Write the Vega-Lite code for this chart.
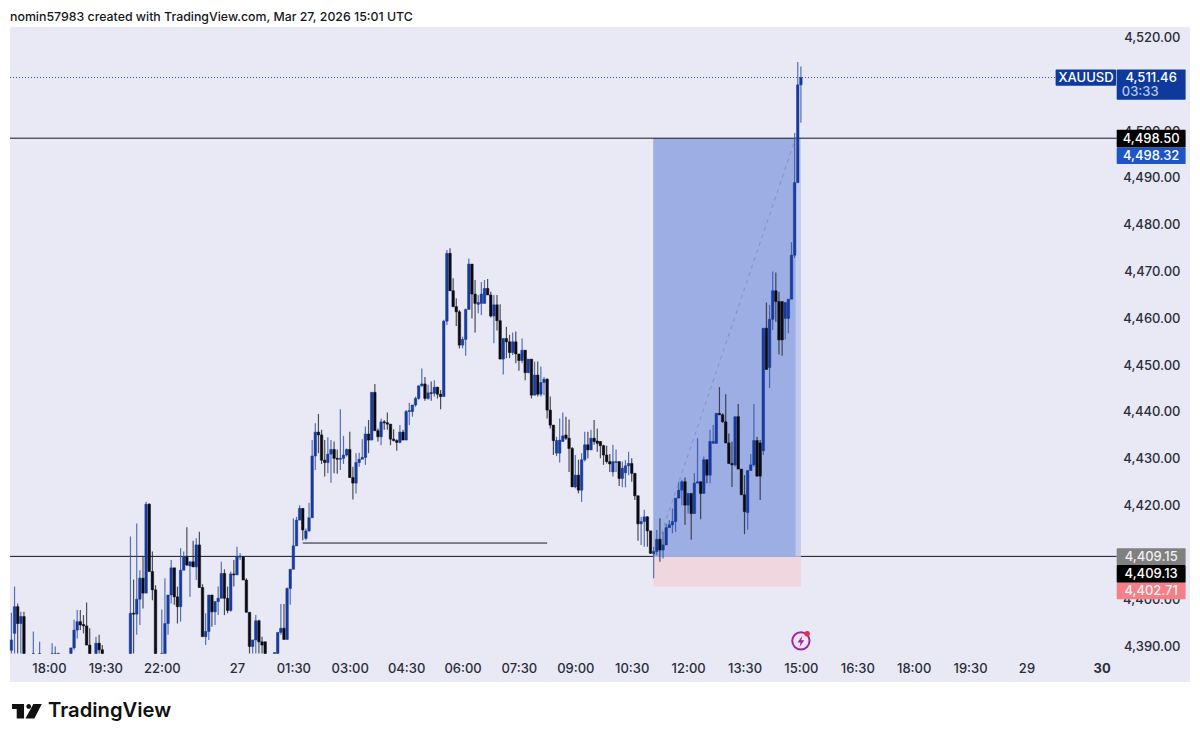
{"$schema":"https://vega.github.io/schema/vega-lite/v6.json","width":1180,"height":655,"autosize":"none","padding":{"left":10,"top":27,"right":10,"bottom":60},"background":"#ffffff","view":{"fill":"#e9e9f5","stroke":null},
"title":{"text":"nomin57983 created with TradingView.com, Mar 27, 2026 15:01 UTC","anchor":"start","frame":"group","orient":"top","offset":4,"font":"Inter","fontSize":12.35,"fontWeight":500,"color":"#131722"},
"config":{"axis":{"grid":false,"domain":false,"ticks":false,"tickSize":0,"title":null}},
"resolve":{"scale":{"color":"independent"}},
"datasets":{"candles":[
{"i":-12,"o":4389.1,"h":4397.1,"l":4388.4,"c":4391.3},{"i":-11,"o":4392.7,"h":4402.7,"l":4388.4,"c":4398.4},{"i":-10,"o":4398.4,"h":4399.1,"l":4388.4,"c":4394.8},{"i":-9,"o":4394.8,"h":4397.3,"l":4388.4,"c":4396.3},{"i":-8,"o":4396.3,"h":4397.3,"l":4388.4,"c":4388.4},{"i":-5,"o":4388.4,"h":4393.1,"l":4388.4,"c":4388.4},{"i":-3,"o":4388.4,"h":4390.9,"l":4388.4,"c":4388.4},{"i":1,"o":4388.4,"h":4390.6,"l":4388.4,"c":4388.4},{"i":2,"o":4388.4,"h":4389.9,"l":4388.4,"c":4388.4},{"i":3,"o":4388.4,"h":4388.6,"l":4388.4,"c":4388.4},
{"i":7,"o":4388.4,"h":4389.6,"l":4388.4,"c":4389.6},{"i":8,"o":4389.6,"h":4395.6,"l":4389.2,"c":4393.4},{"i":9,"o":4393.4,"h":4397.7,"l":4391.6,"c":4395.2},{"i":10,"o":4395.2,"h":4397.7,"l":4393.4,"c":4394.5},{"i":11,"o":4394.6,"h":4396.6,"l":4392.7,"c":4394.3},{"i":12,"o":4394.3,"h":4399.3,"l":4390.2,"c":4390.2},{"i":13,"o":4390.2,"h":4393.8,"l":4388.4,"c":4388.4},{"i":15,"o":4388.4,"h":4392,"l":4388.4,"c":4390.6},{"i":16,"o":4390.6,"h":4392.4,"l":4388.4,"c":4389.2},{"i":17,"o":4389.2,"h":4390.2,"l":4388.4,"c":4388.4},
{"i":26,"o":4388.4,"h":4413.4,"l":4388.4,"c":4397},{"i":27,"o":4397,"h":4404.2,"l":4388.4,"c":4396.8},{"i":28,"o":4396.8,"h":4416.2,"l":4392.4,"c":4400},{"i":29,"o":4400,"h":4406.2,"l":4394.5,"c":4404.5},{"i":30,"o":4404.5,"h":4409.1,"l":4398,"c":4401.3},{"i":31,"o":4401.3,"h":4420.8,"l":4401.3,"c":4420.3},{"i":32,"o":4420.3,"h":4420.5,"l":4405.9,"c":4405.9},{"i":33,"o":4405.9,"h":4410.2,"l":4399.8,"c":4402},{"i":34,"o":4402,"h":4403,"l":4388.4,"c":4388.4},
{"i":36,"o":4388.4,"h":4397.8,"l":4388.4,"c":4388.4},{"i":37,"o":4388.4,"h":4404.5,"l":4388.4,"c":4394.8},{"i":38,"o":4394.8,"h":4400.9,"l":4392.4,"c":4400.9},{"i":39,"o":4400.9,"h":4408.4,"l":4399.1,"c":4406.7},{"i":40,"o":4406.7,"h":4406.7,"l":4398.8,"c":4400.5},{"i":41,"o":4400.5,"h":4402.7,"l":4394.8,"c":4398.4},{"i":42,"o":4398.4,"h":4410.9,"l":4395.2,"c":4406.2},{"i":43,"o":4406.2,"h":4410.2,"l":4406.2,"c":4409},{"i":44,"o":4409,"h":4415.4,"l":4407.1,"c":4407.3},{"i":45,"o":4407.1,"h":4408,"l":4400.5,"c":4408},{"i":46,"o":4408,"h":4412.5,"l":4406.9,"c":4406.9},{"i":47,"o":4406.9,"h":4413,"l":4404.1,"c":4411.6},{"i":48,"o":4411.6,"h":4414.4,"l":4402.5,"c":4402.5},{"i":49,"o":4402.5,"h":4403.2,"l":4392,"c":4392},
{"i":50,"o":4392,"h":4397,"l":4390.2,"c":4393.1},{"i":51,"o":4393.1,"h":4400.9,"l":4391.3,"c":4400.9},{"i":52,"o":4400.9,"h":4400.9,"l":4394.1,"c":4397.3},{"i":53,"o":4397.3,"h":4399.5,"l":4394.5,"c":4399.5},{"i":54,"o":4399.5,"h":4402.7,"l":4396.6,"c":4400.2},{"i":55,"o":4400.2,"h":4408,"l":4400.2,"c":4405.5},{"i":56,"o":4405.5,"h":4406.4,"l":4396.6,"c":4400.2},{"i":57,"o":4400.2,"h":4402.7,"l":4397,"c":4397.6},{"i":58,"o":4397.6,"h":4405.9,"l":4397.3,"c":4405.4},{"i":59,"o":4405.4,"h":4408.4,"l":4402.7,"c":4405.2},{"i":60,"o":4405.2,"h":4411.2,"l":4405.2,"c":4409},{"i":61,"o":4409,"h":4409.8,"l":4408.4,"c":4409.2},{"i":62,"o":4409,"h":4409.2,"l":4404.1,"c":4404.1},{"i":63,"o":4404.1,"h":4404.5,"l":4397.2,"c":4397.2},{"i":64,"o":4397.2,"h":4397.2,"l":4388.4,"c":4389.9},{"i":65,"o":4389.9,"h":4391.3,"l":4388.4,"c":4391.3},{"i":66,"o":4391.3,"h":4396.6,"l":4388.4,"c":4395.4},{"i":67,"o":4395.4,"h":4395.6,"l":4388.4,"c":4390.9},{"i":68,"o":4390.9,"h":4392,"l":4388.4,"c":4390.2},{"i":69,"o":4390.9,"h":4390.9,"l":4388.4,"c":4388.4},
{"i":72,"o":4388.4,"h":4388.6,"l":4388.4,"c":4388.6},{"i":73,"o":4388.4,"h":4392.9,"l":4388.4,"c":4392.9},{"i":74,"o":4392.9,"h":4399,"l":4392.4,"c":4393.8},{"i":75,"o":4393.8,"h":4399,"l":4391.4,"c":4391.4},{"i":76,"o":4391.4,"h":4402.5,"l":4391.4,"c":4402.3},{"i":77,"o":4402.3,"h":4406.4,"l":4398.8,"c":4406.4},{"i":78,"o":4406.4,"h":4417.3,"l":4406.4,"c":4411.4},{"i":79,"o":4411.4,"h":4417.6,"l":4411.4,"c":4416.9},
{"i":80,"o":4416.9,"h":4420.1,"l":4416.9,"c":4419.4},{"i":81,"o":4419.4,"h":4419.4,"l":4412.6,"c":4414.8},{"i":82,"o":4413,"h":4415.1,"l":4412.6,"c":4414.6},{"i":83,"o":4414.6,"h":4420.6,"l":4414.4,"c":4417.4},{"i":84,"o":4417.4,"h":4434,"l":4417.4,"c":4430.6},{"i":85,"o":4430.6,"h":4437.6,"l":4427.6,"c":4435.7},{"i":86,"o":4435.7,"h":4439.6,"l":4431.2,"c":4435.1},{"i":87,"o":4435.1,"h":4436.2,"l":4428.9,"c":4429.7},{"i":88,"o":4429.7,"h":4434,"l":4426.2,"c":4429.2},{"i":89,"o":4429.2,"h":4434.6,"l":4426.9,"c":4431},{"i":90,"o":4431,"h":4434,"l":4424.9,"c":4432},{"i":91,"o":4432,"h":4433.7,"l":4426.9,"c":4430.1},{"i":92,"o":4430.1,"h":4432,"l":4426.8,"c":4429.9},{"i":93,"o":4429.9,"h":4440.6,"l":4427.6,"c":4430.1},{"i":94,"o":4430.1,"h":4434.9,"l":4428.9,"c":4430.8},{"i":95,"o":4430.8,"h":4432.2,"l":4430.5,"c":4432},{"i":96,"o":4432,"h":4435.8,"l":4426,"c":4426},{"i":97,"o":4426,"h":4428.3,"l":4421.3,"c":4424.8},{"i":98,"o":4424.8,"h":4431.2,"l":4422.6,"c":4429.2},{"i":99,"o":4429.2,"h":4431.3,"l":4428.3,"c":4429.9},
{"i":100,"o":4429.9,"h":4434.2,"l":4430.1,"c":4430.3},{"i":101,"o":4430.3,"h":4436.9,"l":4428.7,"c":4435.3},{"i":102,"o":4435.3,"h":4438.3,"l":4431.2,"c":4434},{"i":103,"o":4434,"h":4444.2,"l":4434,"c":4444.2},{"i":104,"o":4444.2,"h":4446,"l":4436,"c":4436},{"i":105,"o":4436,"h":4436.5,"l":4433.7,"c":4434.7},{"i":106,"o":4434.7,"h":4438.6,"l":4432.9,"c":4437.9},{"i":107,"o":4437.9,"h":4438.3,"l":4436.2,"c":4437.7},{"i":108,"o":4437.7,"h":4439.9,"l":4436.2,"c":4437.4},{"i":109,"o":4437.4,"h":4437.4,"l":4432.9,"c":4434.2},{"i":110,"o":4434.2,"h":4436.3,"l":4433.7,"c":4433.9},{"i":111,"o":4433.9,"h":4434.2,"l":4431.7,"c":4433.5},{"i":112,"o":4433.5,"h":4437.2,"l":4433.3,"c":4435.7},{"i":113,"o":4435.7,"h":4436.2,"l":4434,"c":4434},{"i":114,"o":4434,"h":4440.4,"l":4434,"c":4440.1},{"i":115,"o":4440.1,"h":4442,"l":4437.2,"c":4440.3},{"i":116,"o":4440.1,"h":4441.5,"l":4439,"c":4441.5},{"i":117,"o":4441.5,"h":4443.3,"l":4441.1,"c":4442.9},{"i":118,"o":4442.9,"h":4445.6,"l":4442.6,"c":4445.6},{"i":119,"o":4445.6,"h":4449.3,"l":4445.4,"c":4446},
{"i":120,"o":4446,"h":4447.5,"l":4442.4,"c":4442.9},{"i":121,"o":4442.9,"h":4445.8,"l":4442.6,"c":4444.1},{"i":122,"o":4444.1,"h":4446.5,"l":4442.4,"c":4444},{"i":123,"o":4444,"h":4446.8,"l":4443.3,"c":4445.3},{"i":124,"o":4445.3,"h":4445.4,"l":4442.9,"c":4443.8},{"i":125,"o":4443.8,"h":4444.7,"l":4440.6,"c":4443.3},{"i":126,"o":4443.3,"h":4459.7,"l":4443.3,"c":4459.4},{"i":127,"o":4459.4,"h":4474.6,"l":4458.6,"c":4473.9},{"i":128,"o":4473.9,"h":4475,"l":4465.9,"c":4465.9},{"i":129,"o":4465.9,"h":4468.6,"l":4462.5,"c":4462.5},{"i":130,"o":4462.5,"h":4464.3,"l":4458.4,"c":4461.4},{"i":131,"o":4461.4,"h":4461.8,"l":4453.6,"c":4454.3},{"i":132,"o":4454.3,"h":4456.1,"l":4453.6,"c":4455.5},{"i":133,"o":4455.5,"h":4462.1,"l":4452,"c":4461.9},{"i":134,"o":4461.9,"h":4472.8,"l":4461.9,"c":4471.6},{"i":135,"o":4471.6,"h":4471.6,"l":4460,"c":4465.2},{"i":136,"o":4465.2,"h":4468.2,"l":4457,"c":4463.2},{"i":137,"o":4463,"h":4465,"l":4461.1,"c":4463.4},{"i":138,"o":4463.2,"h":4467.8,"l":4460.7,"c":4465.2},{"i":139,"o":4463.2,"h":4468.2,"l":4463.2,"c":4466.4},
{"i":140,"o":4466.4,"h":4468.4,"l":4465,"c":4465},{"i":141,"o":4465,"h":4465.7,"l":4460.2,"c":4460.5},{"i":142,"o":4460.5,"h":4465,"l":4454.7,"c":4462.9},{"i":143,"o":4462.9,"h":4465,"l":4457.4,"c":4459.5},{"i":144,"o":4459.5,"h":4463,"l":4451.3,"c":4451.3},{"i":145,"o":4451.3,"h":4455.7,"l":4448,"c":4455.7},{"i":146,"o":4455.7,"h":4458.2,"l":4451.5,"c":4455},{"i":147,"o":4455,"h":4456.5,"l":4451.5,"c":4452.7},{"i":148,"o":4452.7,"h":4457,"l":4452.2,"c":4455},{"i":149,"o":4455,"h":4457.2,"l":4450.4,"c":4452.4},{"i":150,"o":4452.4,"h":4452.4,"l":4448.8,"c":4451},{"i":151,"o":4451,"h":4455.7,"l":4450.4,"c":4453.2},{"i":152,"o":4453.2,"h":4453.2,"l":4446.8,"c":4448.4},{"i":153,"o":4448.4,"h":4451.3,"l":4448.3,"c":4451.3},{"i":154,"o":4451.3,"h":4451.3,"l":4442.9,"c":4443.6},{"i":155,"o":4443.6,"h":4450.8,"l":4443.6,"c":4447.9},{"i":156,"o":4447.9,"h":4450.8,"l":4443.3,"c":4443.8},{"i":157,"o":4443.8,"h":4449.7,"l":4443.3,"c":4446.3},{"i":158,"o":4446.3,"h":4447.5,"l":4443.6,"c":4447},{"i":159,"o":4447,"h":4447.2,"l":4438.6,"c":4440.4},
{"i":160,"o":4440.4,"h":4443.3,"l":4436.5,"c":4437.2},{"i":161,"o":4437.2,"h":4437.2,"l":4430.8,"c":4433.9},{"i":162,"o":4431.2,"h":4434.7,"l":4430.6,"c":4433.9},{"i":163,"o":4431.2,"h":4438.6,"l":4429.2,"c":4434},{"i":164,"o":4433.7,"h":4439.9,"l":4433.7,"c":4434.9},{"i":165,"o":4435.1,"h":4439,"l":4434,"c":4434.4},{"i":166,"o":4434.4,"h":4438.4,"l":4427.2,"c":4432.2},{"i":167,"o":4432.2,"h":4432.5,"l":4424,"c":4424},{"i":168,"o":4424,"h":4430.8,"l":4423.7,"c":4426.5},{"i":169,"o":4426.5,"h":4429.8,"l":4422.6,"c":4423.3},{"i":170,"o":4423.3,"h":4431.2,"l":4420.8,"c":4429.8},{"i":171,"o":4429.8,"h":4435.8,"l":4429.4,"c":4433},{"i":172,"o":4433,"h":4435.8,"l":4430.1,"c":4431.9},{"i":173,"o":4431.9,"h":4436.2,"l":4431.9,"c":4434.4},{"i":174,"o":4434.4,"h":4438.3,"l":4433,"c":4433.7},{"i":175,"o":4433.8,"h":4436.5,"l":4431.5,"c":4433.3},{"i":176,"o":4433.7,"h":4433.7,"l":4430.1,"c":4432.8},{"i":177,"o":4432.8,"h":4433,"l":4428.7,"c":4430.8},{"i":178,"o":4430.8,"h":4432.8,"l":4429,"c":4429.4},{"i":179,"o":4429.4,"h":4431,"l":4427.2,"c":4428.9},
{"i":180,"o":4427.2,"h":4433,"l":4426.2,"c":4429.4},{"i":181,"o":4429.2,"h":4432,"l":4427.2,"c":4429.4},{"i":182,"o":4429.4,"h":4429.4,"l":4424.2,"c":4425.8},{"i":183,"o":4425.8,"h":4429.4,"l":4423.9,"c":4428},{"i":184,"o":4427,"h":4429.7,"l":4423.9,"c":4428.5},{"i":185,"o":4428.5,"h":4431.5,"l":4426.5,"c":4429},{"i":186,"o":4429,"h":4430.1,"l":4425.1,"c":4426.9},{"i":187,"o":4426.9,"h":4426.9,"l":4421.2,"c":4422.1},{"i":188,"o":4422.1,"h":4422.1,"l":4412.5,"c":4416.1},{"i":189,"o":4416.1,"h":4417.6,"l":4411.6,"c":4416.6},{"i":190,"o":4416.6,"h":4419.1,"l":4411.2,"c":4417.6},{"i":191,"o":4417.6,"h":4417.8,"l":4411.2,"c":4414.6},{"i":192,"o":4414.6,"h":4414.6,"l":4409.7,"c":4409.8},{"i":193,"o":4409.7,"h":4411.2,"l":4404.5,"c":4410.2},{"i":194,"o":4410.2,"h":4414.8,"l":4409.4,"c":4412.8},{"i":195,"o":4412.8,"h":4417.3,"l":4408,"c":4410.5},{"i":196,"o":4410.5,"h":4414.4,"l":4408.7,"c":4411.6},{"i":197,"o":4411.6,"h":4416.2,"l":4411.6,"c":4415.3},{"i":198,"o":4415.3,"h":4416.9,"l":4415.3,"c":4415.9},{"i":199,"o":4415.9,"h":4419.4,"l":4414.1,"c":4416.6},
{"i":200,"o":4416.6,"h":4421.6,"l":4414.4,"c":4421.6},{"i":201,"o":4421.6,"h":4425.1,"l":4421.6,"c":4423.3},{"i":202,"o":4423.3,"h":4425.5,"l":4420.1,"c":4425.1},{"i":203,"o":4425.1,"h":4426,"l":4415.9,"c":4420.1},{"i":204,"o":4420.1,"h":4422.6,"l":4418.3,"c":4422.6},{"i":205,"o":4422.6,"h":4422.6,"l":4412.7,"c":4418.3},{"i":206,"o":4418.3,"h":4426.9,"l":4418.3,"c":4424.8},{"i":207,"o":4424.8,"h":4434.4,"l":4424.8,"c":4425.1},{"i":208,"o":4425.1,"h":4425.1,"l":4417.1,"c":4422.6},{"i":209,"o":4422.6,"h":4430.5,"l":4422.6,"c":4429.8},{"i":210,"o":4429.8,"h":4429.8,"l":4424.8,"c":4426.5},{"i":211,"o":4426.5,"h":4436.2,"l":4424.8,"c":4433.7},{"i":212,"o":4433.3,"h":4437.2,"l":4433.3,"c":4433.7},{"i":213,"o":4433.3,"h":4439.7,"l":4433.3,"c":4439.7},{"i":214,"o":4439.7,"h":4445.3,"l":4439.4,"c":4439.4},{"i":215,"o":4439.4,"h":4439.7,"l":4437.7,"c":4437.9},{"i":216,"o":4437.9,"h":4443.8,"l":4433.3,"c":4433.4},{"i":217,"o":4433.4,"h":4435.4,"l":4429,"c":4429},{"i":218,"o":4429,"h":4433.7,"l":4424,"c":4428.7},{"i":219,"o":4428.7,"h":4439,"l":4428.3,"c":4439},
{"i":220,"o":4439,"h":4441.7,"l":4427.8,"c":4427.8},{"i":221,"o":4427.8,"h":4427.8,"l":4422.3,"c":4422.3},{"i":222,"o":4422.3,"h":4426.5,"l":4413.9,"c":4418.7},{"i":223,"o":4418.5,"h":4427.5,"l":4414.9,"c":4427.5},{"i":224,"o":4427.5,"h":4431,"l":4427.5,"c":4428.7},{"i":225,"o":4428.7,"h":4441.7,"l":4428.3,"c":4433.9},{"i":226,"o":4433.9,"h":4434.7,"l":4426.2,"c":4426.3},{"i":227,"o":4433.4,"h":4434,"l":4421.2,"c":4426.3},{"i":228,"o":4431.7,"h":4457.9,"l":4430.8,"c":4457.9},{"i":229,"o":4457.9,"h":4463.4,"l":4449,"c":4449.1},{"i":230,"o":4449.5,"h":4462.9,"l":4445.1,"c":4459.8},{"i":231,"o":4459.8,"h":4470,"l":4457.5,"c":4465.9},{"i":232,"o":4465.9,"h":4469.8,"l":4459.3,"c":4463.6},{"i":233,"o":4463.6,"h":4465.7,"l":4452.3,"c":4455.4},{"i":234,"o":4463.6,"h":4463.6,"l":4452,"c":4455.4},{"i":235,"o":4460,"h":4463.4,"l":4455.5,"c":4463.4},{"i":236,"o":4460,"h":4464.1,"l":4456.8,"c":4464.1},{"i":237,"o":4464.1,"h":4476.3,"l":4464.1,"c":4473.5},{"i":238,"o":4473.5,"h":4499.6,"l":4472.9,"c":4489},{"i":239,"o":4489,"h":4514.8,"l":4489,"c":4509.9},{"i":240,"o":4509.9,"h":4513.8,"l":4501.8,"c":4511.46}],
"tags":[
{"tag":"symbol","from":321.3,"to":340.6,"top":4513.2,"bottom":4509.7},
{"tag":"close","from":340.8,"to":362.8,"top":4513.2,"bottom":4506.7},
{"tag":"level","from":340.8,"to":362.8,"top":4500.3,"bottom":4496.5},
{"tag":"entry","from":340.8,"to":362.8,"top":4496.5,"bottom":4493},
{"tag":"start","from":340.8,"to":362.8,"top":4410.9,"bottom":4407.3},
{"tag":"level","from":340.8,"to":362.8,"top":4407.3,"bottom":4403.5},
{"tag":"stop","from":340.8,"to":362.8,"top":4403.5,"bottom":4400}],
"tagText":[
{"label":"XAUUSD","at":331,"pos":4511.46,"weight":"main"},
{"label":"4,511.46","at":351.8,"pos":4511.46,"weight":"main"},
{"label":"03:33","at":348.3,"pos":4508.4,"weight":"dim"},
{"label":"4,498.50","at":351.8,"pos":4498.4,"weight":"main"},
{"label":"4,498.32","at":351.8,"pos":4494.7,"weight":"main"},
{"label":"4,409.15","at":351.8,"pos":4409.1,"weight":"dim2"},
{"label":"4,409.13","at":351.8,"pos":4405.4,"weight":"main"},
{"label":"4,402.71","at":351.8,"pos":4401.8,"weight":"dim2"}]},
"layer":[
{"data":{"values":[{"from":-12.45,"to":340.8,"level":4409.15}]},"mark":{"type":"rule","color":"#131722","strokeWidth":1},"encoding":{
"x":{"field":"from","type":"quantitative","scale":{"domain":[-12.45,364.2],"nice":false,"zero":false,"padding":0},"axis":{"values":[0,18,36,60,78,96,114,132,150,168,186,204,222,240,258,276,294,312,336],"labelExpr":"{'0':'18:00','18':'19:30','36':'22:00','60':'27','78':'01:30','96':'03:00','114':'04:30','132':'06:00','150':'07:30','168':'09:00','186':'10:30','204':'12:00','222':'13:30','240':'15:00','258':'16:30','276':'18:00','294':'19:30','312':'29','336':'30'}[datum.value]","orient":"bottom","labelPadding":-14,"labelBaseline":"middle","labelFont":"Inter","labelFontSize":13,"labelFontWeight":{"condition":{"test":"datum.value==336","value":700},"value":500},"labelColor":"#2a2e39","labelFlush":false,"labelOverlap":false}},
"x2":{"field":"to"},
"y":{"field":"level","type":"quantitative","scale":{"domain":[4382.31,4522.26],"nice":false,"zero":false},"axis":{"orient":"right","values":[4390,4400,4420,4430,4440,4450,4460,4470,4480,4490,4500,4520],"format":",.2f","labelAlign":"right","labelPadding":-10,"labelFont":"Inter","labelFontSize":13,"labelFontWeight":500,"labelColor":"#2a2e39","labelOverlap":false}}}},
{"data":{"values":[{"from":192.9,"to":240,"hi":4409.15,"lo":4402.71}]},"mark":{"type":"rect","color":"#efd6df"},"encoding":{"x":{"field":"from","type":"quantitative"},"x2":{"field":"to"},"y":{"field":"hi","type":"quantitative"},"y2":{"field":"lo"}}},
{"data":{"values":[{"from":192.9,"to":240,"hi":4498.5,"lo":4409.15}]},"mark":{"type":"rect","color":"#c2cbec"},"encoding":{"x":{"field":"from","type":"quantitative"},"x2":{"field":"to"},"y":{"field":"hi","type":"quantitative"},"y2":{"field":"lo"}}},
{"data":{"values":[{"from":192.9,"to":238.3,"hi":4498.5,"lo":4409.15}]},"mark":{"type":"rect","color":"#9caee3"},"encoding":{"x":{"field":"from","type":"quantitative"},"x2":{"field":"to"},"y":{"field":"hi","type":"quantitative"},"y2":{"field":"lo"}}},
{"data":{"values":[{"from":-12.45,"to":340.8,"level":4498.5}]},"mark":{"type":"rule","color":"#131722","strokeWidth":1},"encoding":{"x":{"field":"from","type":"quantitative"},"x2":{"field":"to"},"y":{"field":"level","type":"quantitative"}}},
{"data":{"values":[{"from":-12.45,"to":321.3,"level":4511.46}]},"mark":{"type":"rule","color":"#2a4fb0","strokeWidth":1,"strokeDash":[1,2]},"encoding":{"x":{"field":"from","type":"quantitative"},"x2":{"field":"to"},"y":{"field":"level","type":"quantitative"}}},
{"data":{"values":[{"from":81,"to":159,"level":4412}]},"mark":{"type":"rule","color":"#131722","strokeWidth":1},"encoding":{"x":{"field":"from","type":"quantitative"},"x2":{"field":"to"},"y":{"field":"level","type":"quantitative"}}},
{"data":{"values":[{"i":193,"p":4409.15},{"i":238.3,"p":4498.5}]},"mark":{"type":"line","color":"#7f88a6","strokeWidth":1,"strokeDash":[4,4],"opacity":0.75},"encoding":{"x":{"field":"i","type":"quantitative"},"y":{"field":"p","type":"quantitative"}}},
{"data":{"name":"candles"},"mark":{"type":"rule","strokeWidth":1.2,"opacity":0.8},"encoding":{"x":{"field":"i","type":"quantitative"},"y":{"field":"h","type":"quantitative"},"y2":{"field":"l"},"color":{"condition":{"test":"datum.c>=datum.o","value":"#2f50a8"},"value":"#26262e"}}},
{"data":{"name":"candles"},"mark":{"type":"bar","orient":"vertical","size":2.5,"strokeWidth":0.5},"encoding":{"x":{"field":"i","type":"quantitative"},"y":{"field":"o","type":"quantitative"},"y2":{"field":"c"},"fill":{"condition":{"test":"datum.c>=datum.o","value":"#173a9b"},"value":"#0b0b14"},"stroke":{"condition":{"test":"datum.c>=datum.o","value":"#173a9b"},"value":"#0b0b14"}}},
{"data":{"name":"tags"},"mark":{"type":"rect","cornerRadius":1},"encoding":{"x":{"field":"from","type":"quantitative"},"x2":{"field":"to"},"y":{"field":"top","type":"quantitative"},"y2":{"field":"bottom"},"color":{"field":"tag","type":"nominal","legend":null,"scale":{"domain":["symbol","close","level","entry","start","stop"],"range":["#0e3a9e","#0e3a9e","#000000","#1d55c4","#808080","#f57f86"]}}}},
{"data":{"name":"tagText"},"mark":{"type":"text","font":"Inter","fontSize":13,"fontWeight":500,"align":"center","baseline":"middle"},"encoding":{"x":{"field":"at","type":"quantitative"},"y":{"field":"pos","type":"quantitative"},"text":{"field":"label"},"color":{"field":"weight","type":"nominal","legend":null,"scale":{"domain":["main","dim","dim2"],"range":["#ffffff","#b9c6ea","#f0f0f4"]}}}},
{"data":{"values":[{"i":240,"p":4391.1}]},"mark":{"type":"point","filled":true,"color":"#f3e6f4","stroke":"#a0279f","strokeWidth":2,"size":300,"opacity":1},"encoding":{"x":{"field":"i","type":"quantitative"},"y":{"field":"p","type":"quantitative"}}},
{"data":{"values":[{"i":240,"p":4391.0}]},"mark":{"type":"point","filled":true,"color":"#a0279f","opacity":1,"size":130,"shape":"M0.25,-1 L-0.6,0.2 L-0.05,0.2 L-0.25,1 L0.6,-0.2 L0.05,-0.2 Z"},"encoding":{"x":{"field":"i","type":"quantitative"},"y":{"field":"p","type":"quantitative"}}},
{"data":{"values":[{"i":242,"p":4392.6}]},"mark":{"type":"point","filled":true,"color":"#e5304e","opacity":1,"size":30},"encoding":{"x":{"field":"i","type":"quantitative"},"y":{"field":"p","type":"quantitative"}}},
{"data":{"values":[{"i":-7.1,"p":4376.1}]},"mark":{"type":"point","filled":true,"color":"#111111","opacity":1,"size":900,"shape":"M-0.98,-0.47 L-0.18,-0.47 L-0.18,0.49 L-0.67,0.49 L-0.67,-0.13 L-0.98,-0.13 Z M-0.025,-0.31 a0.155,0.155 0 1 0 0.31,0 a0.155,0.155 0 1 0 -0.31,0 Z M0.44,-0.47 L1,-0.47 L0.51,0.49 L-0.09,0.49 Z"},"encoding":{"x":{"field":"i","type":"quantitative"},"y":{"field":"p","type":"quantitative"}}},
{"data":{"values":[{"name":"TradingView","i":-0.3,"p":4376.1}]},"mark":{"type":"text","font":"Inter","fontSize":20.2,"fontWeight":600,"align":"left","baseline":"middle","color":"#111111"},"encoding":{"x":{"field":"i","type":"quantitative"},"y":{"field":"p","type":"quantitative"},"text":{"field":"name"}}}
]}
